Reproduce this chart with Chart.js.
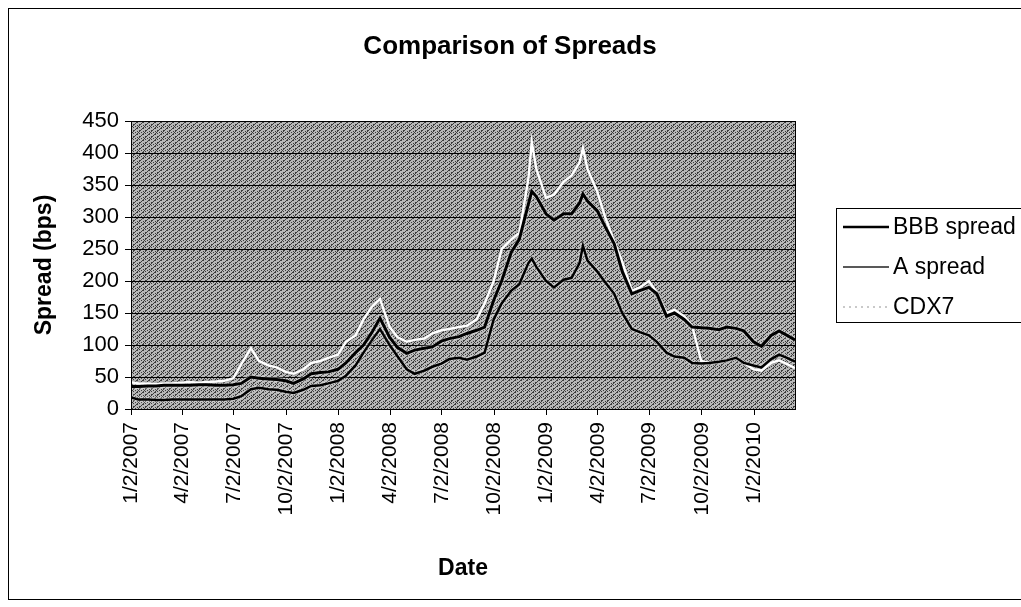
<!DOCTYPE html>
<html>
<head>
<meta charset="utf-8">
<title>Comparison of Spreads</title>
<script src="https://cdn.jsdelivr.net/npm/chart.js@4.4.1/dist/chart.umd.min.js"></script>
<style>
body { margin: 0; background: #fff; }
#wrap { position: relative; width: 1021px; height: 607px; }
</style>
</head>
<body>
<div id="wrap"><canvas id="spreads"></canvas></div>
<script>
// values, roughly twice a month
var dates = [
    '1/2/2007', '1/15/2007', '2/1/2007', '2/15/2007', '3/1/2007', '3/15/2007',
    '4/1/2007', '4/15/2007', '5/1/2007', '5/15/2007', '6/1/2007', '6/15/2007',
    '7/1/2007', '7/15/2007', '8/1/2007', '8/15/2007', '9/1/2007', '9/15/2007',
    '10/1/2007', '10/15/2007', '11/1/2007', '11/15/2007', '12/1/2007', '12/15/2007',
    '1/1/2008', '1/15/2008', '2/1/2008', '2/15/2008', '3/1/2008', '3/15/2008',
    '4/1/2008', '4/15/2008', '5/1/2008', '5/15/2008', '6/1/2008', '6/15/2008',
    '7/1/2008', '7/15/2008', '8/1/2008', '8/15/2008', '9/1/2008', '9/15/2008',
    '10/1/2008', '10/15/2008', '11/1/2008', '11/15/2008', '12/1/2008', '12/7/2008', '12/15/2008',
    '1/1/2009', '1/15/2009', '2/1/2009', '2/15/2009', '3/1/2009', '3/7/2009', '3/15/2009',
    '4/1/2009', '4/15/2009', '5/1/2009', '5/15/2009', '6/1/2009', '6/15/2009',
    '7/1/2009', '7/15/2009', '8/1/2009', '8/15/2009', '9/1/2009', '9/15/2009',
    '10/1/2009', '10/15/2009', '11/1/2009', '11/15/2009', '12/1/2009', '12/15/2009',
    '1/1/2010', '1/15/2010', '2/1/2010', '2/15/2010', '3/1/2010', '3/15/2010'
];
var bbbSpread = [
    35, 35, 36, 36, 37, 37,
    37, 37, 38, 38, 37, 37,
    38, 40, 50, 48, 47, 46,
    44, 40, 47, 55, 57, 58,
    62, 72, 88, 100, 120, 142,
    112, 96, 87, 92, 95, 97,
    106, 110, 113, 118, 123, 128,
    170, 200, 245, 265, 320, 340, 332,
    305, 295, 305, 305, 322, 336, 325,
    310, 285, 258, 215, 180, 185,
    190, 180, 145, 150, 140, 128,
    127, 126, 124, 128, 126, 122,
    105, 98, 115, 122, 115, 108
];
var aSpread = [
    18, 15, 15, 14, 14, 15,
    15, 15, 15, 15, 15, 15,
    16, 20, 31, 33, 31, 30,
    27, 25, 30, 36, 37, 40,
    44, 52, 68, 88, 108, 125,
    100, 82, 62, 55, 60, 66,
    71, 78, 80, 77, 82, 88,
    140, 165, 185, 195, 228, 235, 222,
    200, 190, 202, 205, 228, 255, 232,
    215, 198, 180, 150, 125, 120,
    115, 105, 88, 82, 80, 72,
    71, 72, 74, 76, 80, 72,
    68, 65, 78, 85, 80, 74
];
var cdx7 = [
    42, 40, 40, 39, 40, 40,
    41, 42, 41, 42, 43, 44,
    48, 70, 95, 75, 68, 65,
    58, 55, 62, 72, 75, 80,
    85, 105, 115, 140, 160, 172,
    128, 112, 105, 108, 110, 118,
    123, 125, 128, 130, 140, 165,
    200, 250, 265, 275, 360, 417, 375,
    330, 335, 355, 365, 385, 408, 375,
    340, 300, 262, 230, 185, 190,
    200, 182, 150, 155, 145, 130,
    75, 72, 74, 76, 80, 72,
    62, 60, 72, 76, 70, 64
];
var seriesNames = ['BBB spread', 'A spread', 'CDX7'];
var tickDates = [
    '1/2/2007', '4/2/2007', '7/2/2007', '10/2/2007',
    '1/2/2008', '4/2/2008', '7/2/2008', '10/2/2008',
    '1/2/2009', '4/2/2009', '7/2/2009', '10/2/2009', '1/2/2010'
];
var yTicks = [0, 50, 100, 150, 200, 250, 300, 350, 400, 450];

var FONT = '"Liberation Sans", Arial, Helvetica, sans-serif';

function parseDate(s) {
    var p = s.split('/');
    return Date.UTC(+p[2], +p[0] - 1, +p[1]);
}
var start = parseDate(dates[0]);
function dayNum(s) {
    return Math.round((parseDate(s) - start) / 86400000);
}

var tickLabel = {};
tickDates.forEach(function (d) { tickLabel[dayNum(d)] = d; });

function points(values) {
    return dates.map(function (d, i) { return { x: dayNum(d), y: values[i] }; });
}

// grainy grey fill like the old Excel plot area
function makeHatch() {
    var c = document.createElement('canvas');
    c.width = 6; c.height = 6;
    var g = c.getContext('2d');
    g.fillStyle = '#b8b8b8';
    g.fillRect(0, 0, 6, 6);
    g.fillStyle = '#3c3c3c';
    for (var i = 0; i < 6; i++) {
        g.fillRect((i + 1) % 6, 5 - i, 1, 1);
        g.fillRect((i * 4 + 3) % 6, i, 1, 1);
    }
    return c;
}

var excelLook = {
    id: 'excelLook',
    beforeDraw: function (chart) {
        var ctx = chart.ctx, a = chart.chartArea;
        ctx.save();
        ctx.fillStyle = '#fff';
        ctx.fillRect(0, 0, chart.width, chart.height);
        ctx.fillStyle = ctx.createPattern(makeHatch(), 'repeat');
        ctx.fillRect(a.left, a.top, a.right - a.left, a.bottom - a.top);
        ctx.restore();
    },
    beforeDatasetDraw: function (chart, args) {
        var ctx = chart.ctx;
        ctx.save();
        if (args.index < 2) {
            ctx.shadowColor = 'rgba(255,255,255,0.95)';
            ctx.shadowBlur = 3;
        } else {
            ctx.shadowColor = 'rgba(0,0,0,0.5)';
            ctx.shadowBlur = 2;
        }
    },
    afterDatasetDraw: function (chart) {
        chart.ctx.restore();
    },
    afterDraw: function (chart) {
        var ctx = chart.ctx, a = chart.chartArea;
        ctx.save();
        ctx.strokeStyle = '#000';
        ctx.lineWidth = 1;
        ctx.strokeRect(Math.round(a.left) + 0.5, Math.round(a.top) + 0.5,
            Math.round(a.right - a.left), Math.round(a.bottom - a.top));
        // outer chart frame (right side runs off the page)
        ctx.strokeRect(8.5, 8.5, 1040, 591);

        ctx.fillStyle = '#000';
        ctx.textAlign = 'center';
        ctx.textBaseline = 'middle';
        ctx.font = 'bold 26px ' + FONT;
        ctx.fillText('Comparison of Spreads', 510, 47);

        // legend box
        ctx.strokeRect(836.5, 208.5, 220, 114);
        var rows = [227, 267, 307];
        ctx.textAlign = 'left';
        ctx.font = '23px ' + FONT;
        rows.forEach(function (y, i) {
            ctx.beginPath();
            ctx.moveTo(843, y);
            ctx.lineTo(889, y);
            if (i === 0) { ctx.strokeStyle = '#000'; ctx.lineWidth = 2.5; ctx.setLineDash([]); }
            if (i === 1) { ctx.strokeStyle = '#222'; ctx.lineWidth = 1.5; ctx.setLineDash([]); }
            if (i === 2) { ctx.strokeStyle = '#b8b8b8'; ctx.lineWidth = 1.5; ctx.setLineDash([2, 4]); }
            ctx.stroke();
            ctx.fillText(seriesNames[i], 893, y + 1);
        });
        ctx.restore();
    }
};

new Chart(document.getElementById('spreads'), {
    type: 'line',
    data: {
        datasets: [
            { label: seriesNames[0], data: points(bbbSpread), borderColor: '#000', borderWidth: 3 },
            { label: seriesNames[1], data: points(aSpread), borderColor: '#000', borderWidth: 2.5 },
            { label: seriesNames[2], data: points(cdx7), borderColor: '#fff', borderWidth: 2.5 }
        ]
    },
    options: {
        responsive: true,
        maintainAspectRatio: false,
        animation: false,
        layout: { padding: { top: 121, right: 226, bottom: 0, left: 0 } },
        elements: { point: { radius: 0 }, line: { tension: 0 } },
        plugins: {
            legend: { display: false },
            title: { display: false },
            tooltip: { enabled: false }
        },
        scales: {
            x: {
                type: 'linear',
                min: 0,
                max: dayNum(dates[dates.length - 1]),
                afterBuildTicks: function (axis) {
                    axis.ticks = tickDates.map(function (d) { return { value: dayNum(d) }; });
                },
                afterFit: function (axis) { axis.height = 198; },
                ticks: {
                    autoSkip: false,
                    minRotation: 90,
                    maxRotation: 90,
                    padding: 7,
                    color: '#000',
                    font: { family: FONT, size: 21 },
                    callback: function (v) { return tickLabel[v] || ''; }
                },
                grid: { drawOnChartArea: false, tickLength: 6, color: '#000' },
                border: { display: true, color: '#000' },
                title: {
                    display: true, text: 'Date', color: '#000',
                    font: { family: FONT, size: 23, weight: 'bold' },
                    padding: { top: 0, bottom: 25 }
                }
            },
            y: {
                min: 0,
                max: 450,
                afterBuildTicks: function (axis) {
                    axis.ticks = yTicks.map(function (v) { return { value: v }; });
                },
                afterFit: function (axis) { axis.width = 131; },
                ticks: { padding: 6, color: '#000', font: { family: FONT, size: 22 } },
                grid: { color: '#000', tickLength: 6 },
                border: { display: true, color: '#000' },
                title: {
                    display: true, text: 'Spread (bps)', color: '#000',
                    font: { family: FONT, size: 23, weight: 'bold' },
                    padding: { top: 31, bottom: 0 }
                }
            }
        }
    },
    plugins: [excelLook]
});
</script>
</body>
</html>
